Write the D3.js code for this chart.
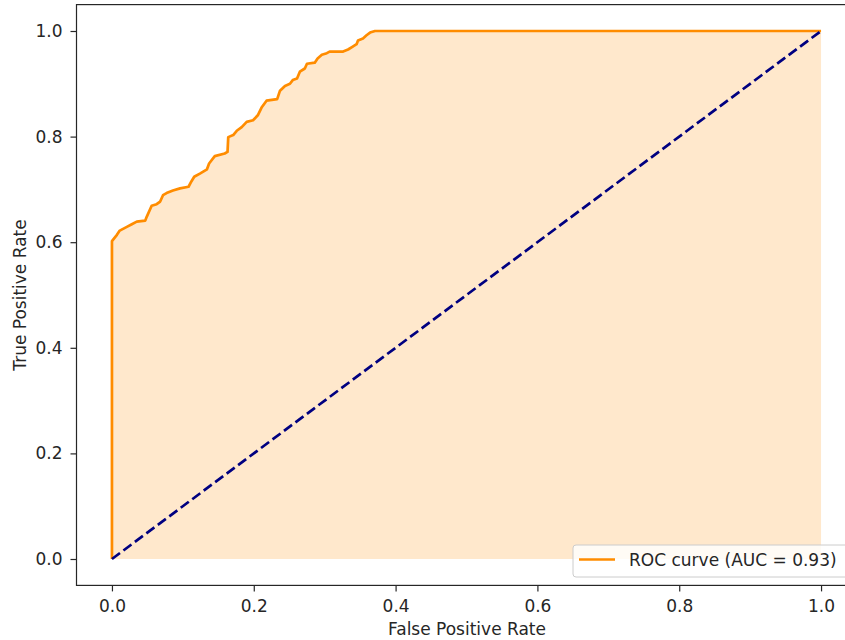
<!DOCTYPE html>
<html>
<head>
<meta charset="utf-8">
<script src="https://cdn.jsdelivr.net/npm/d3@7"></script>
<style>
  body { margin: 0; background: #fff; }
  svg { display: block; }
</style>
</head>
<body>
<div id="chart"></div>
<script>
// ROC curve points (false positive rate, true positive rate)
const fpr = [0, 0, 0.007, 0.011, 0.021, 0.028, 0.035, 0.047, 0.049, 0.056, 0.063, 0.068,
  0.072, 0.077, 0.086, 0.096, 0.108, 0.112, 0.116, 0.124, 0.134, 0.137, 0.145, 0.159,
  0.163, 0.164, 0.171, 0.176, 0.183, 0.190, 0.199, 0.206, 0.211, 0.218, 0.233, 0.237,
  0.244, 0.251, 0.255, 0.261, 0.265, 0.272, 0.275, 0.286, 0.290, 0.296, 0.303, 0.307,
  0.326, 0.333, 0.339, 0.345, 0.347, 0.354, 0.359, 0.364, 0.371, 1.0];
const tpr = [0, 0.602, 0.614, 0.622, 0.629, 0.634, 0.639, 0.641, 0.648, 0.669, 0.672, 0.677,
  0.689, 0.693, 0.698, 0.702, 0.705, 0.715, 0.724, 0.730, 0.738, 0.749, 0.763, 0.768,
  0.771, 0.799, 0.803, 0.811, 0.818, 0.828, 0.831, 0.841, 0.855, 0.868, 0.871, 0.887,
  0.896, 0.900, 0.907, 0.910, 0.923, 0.929, 0.938, 0.940, 0.948, 0.955, 0.958, 0.961,
  0.961, 0.965, 0.970, 0.975, 0.982, 0.986, 0.992, 0.997, 1.0, 1.0];
const diagonal = [0, 1];
const xTicks = [0.0, 0.2, 0.4, 0.6, 0.8, 1.0];
const yTicks = [0.0, 0.2, 0.4, 0.6, 0.8, 1.0];
const aucLabel = "ROC curve (AUC = 0.93)";

const width = 845, height = 640;
const plot = { left: 76.5, right: 856.5, top: 4.6, bottom: 585.4 };
const fontSize = 17;

const svg = d3.select("#chart").append("svg")
  .attr("width", width)
  .attr("height", height)
  .style("font-family", "DejaVu Sans, sans-serif");

const x = d3.scaleLinear().domain([-0.05, 1.05]).range([plot.left, plot.right]);
const y = d3.scaleLinear().domain([-0.05, 1.05]).range([plot.bottom, plot.top]);

const pts = fpr.map((d, i) => [d, tpr[i]]);

// shaded area under the curve
svg.append("path")
  .datum(pts)
  .attr("d", d3.area().x(d => x(d[0])).y0(y(0)).y1(d => y(d[1])))
  .attr("fill", "#ff8c00")
  .attr("fill-opacity", 0.2);

// ROC line
svg.append("path")
  .datum(pts)
  .attr("d", d3.line().x(d => x(d[0])).y(d => y(d[1])))
  .attr("fill", "none")
  .attr("stroke", "#ff8c00")
  .attr("stroke-width", 2.7)
  .attr("stroke-linejoin", "round");

// chance diagonal
svg.append("path")
  .datum(diagonal)
  .attr("d", d3.line().x(d => x(d)).y(d => y(d)))
  .attr("fill", "none")
  .attr("stroke", "#000080")
  .attr("stroke-width", 2.7)
  .attr("stroke-dasharray", "10,4.3");

// axes
const xAxis = svg.append("g")
  .attr("transform", `translate(0,${plot.bottom})`)
  .call(d3.axisBottom(x).tickValues(xTicks).tickFormat(d3.format(".1f")).tickSize(6).tickPadding(9));
const yAxis = svg.append("g")
  .attr("transform", `translate(${plot.left},0)`)
  .call(d3.axisLeft(y).tickValues(yTicks).tickFormat(d3.format(".1f")).tickSize(6).tickPadding(8));

[xAxis, yAxis].forEach(g => {
  g.select(".domain").remove();
  g.selectAll("text").attr("font-size", fontSize).attr("fill", "#262626")
    .style("font-family", "DejaVu Sans, sans-serif");
  g.selectAll("line").attr("stroke", "#262626").attr("stroke-width", 1.2);
});

// frame
svg.append("rect")
  .attr("x", plot.left).attr("y", plot.top)
  .attr("width", plot.right - plot.left).attr("height", plot.bottom - plot.top)
  .attr("fill", "none").attr("stroke", "#262626").attr("stroke-width", 1.2);

// axis labels
svg.append("text")
  .attr("x", 467).attr("y", 635)
  .attr("text-anchor", "middle")
  .attr("font-size", fontSize).attr("fill", "#262626")
  .text("False Positive Rate");
svg.append("text")
  .attr("transform", `translate(26,${(plot.top + plot.bottom) / 2}) rotate(-90)`)
  .attr("text-anchor", "middle")
  .attr("font-size", fontSize).attr("fill", "#262626")
  .text("True Positive Rate");

// legend
const lg = svg.append("g");
lg.append("rect")
  .attr("x", 573).attr("y", 545).attr("width", 290).attr("height", 32)
  .attr("rx", 3)
  .attr("fill", "#fff").attr("fill-opacity", 0.8)
  .attr("stroke", "#cccccc").attr("stroke-width", 1);
lg.append("line")
  .attr("x1", 579).attr("x2", 615).attr("y1", 559.5).attr("y2", 559.5)
  .attr("stroke", "#ff8c00").attr("stroke-width", 2.7);
lg.append("text")
  .attr("x", 629).attr("y", 566)
  .attr("font-size", fontSize).attr("fill", "#262626")
  .text(aucLabel);
</script>
</body>
</html>
